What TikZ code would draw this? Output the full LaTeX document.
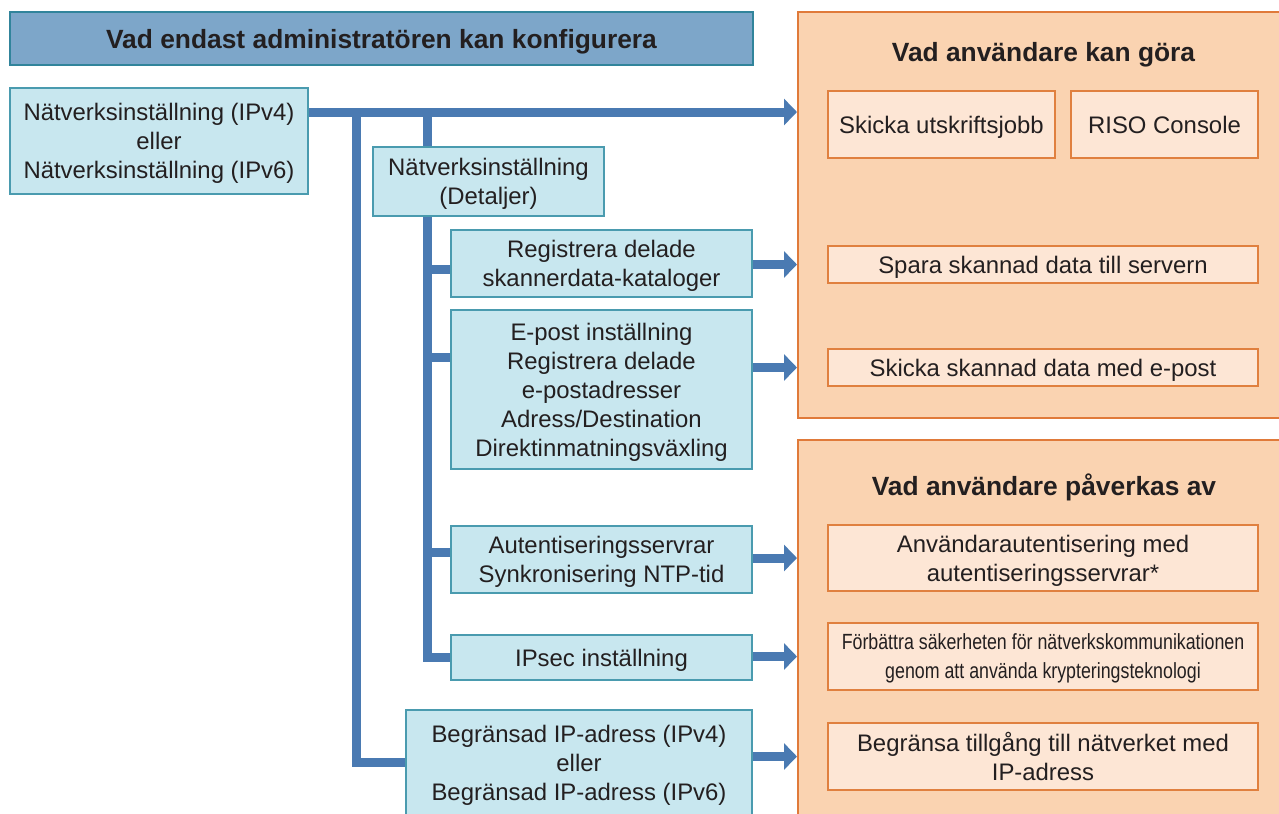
\documentclass[tikz,border=0pt]{standalone}
\usepackage{fontspec}
\setmainfont{Liberation Sans}
\newfontfamily\narrowfont[FakeStretch=0.81]{Liberation Sans}
\usetikzlibrary{arrows.meta,backgrounds}
\definecolor{Ink}{HTML}{231F20}
\definecolor{Trunk}{HTML}{4A7AB2}
\definecolor{HeadFill}{HTML}{7DA6C9}
\definecolor{HeadLine}{HTML}{31849B}
\definecolor{AdmFill}{HTML}{C8E7EF}
\definecolor{AdmLine}{HTML}{4A9BAF}
\definecolor{PanFill}{HTML}{FAD3B1}
\definecolor{PanLine}{HTML}{E07A3A}
\definecolor{UsrFill}{HTML}{FDE6D5}
\definecolor{UsrLine}{HTML}{E0803F}

\begin{document}
\begin{tikzpicture}[x=0.2mm,y=-0.2mm,
  every node/.style={align=center,text=Ink,inner sep=0pt,text depth=0pt,font=\fontsize{13.6}{16.5}\selectfont},
  head/.style={draw=HeadLine,fill=HeadFill,line width=0.5mm,font=\fontsize{15}{18}\selectfont\bfseries},
  adm/.style={draw=AdmLine,fill=AdmFill,line width=0.4mm},
  pan/.style={draw=PanLine,fill=PanFill,line width=0.4mm},
  usr/.style={draw=UsrLine,fill=UsrFill,line width=0.4mm,minimum width=86mm},
  paneltitle/.style={font=\fontsize{15}{18}\selectfont\bfseries},
  trunk/.style={Trunk,line width=1.8mm},
  feed/.style={Trunk,line width=1.8mm,-{Triangle[width=5.2mm,length=2.6mm]}}]
  \useasboundingbox (0,0) rectangle (1279,813);
  \clip (0,0) rectangle (1279,813);

  % administrator side
  \node[head,minimum width=148.6mm,minimum height=10.6mm] (head) at (381.5,38.5) {Vad endast administratören kan konfigurera};
  \node[adm,minimum width=59.6mm,minimum height=21.2mm] (ipnet) at (159,141) {Nätverksinställning (IPv4)\\eller\\Nätverksinställning (IPv6)};
  \node[adm,minimum width=46.2mm,minimum height=13.8mm] (detail) at (488.5,181.5) {Nätverksinställning\\(Detaljer)};
  \node[adm,minimum width=60.2mm,minimum height=13.4mm] (scanfld) at (601.5,263.5) {Registrera delade\\skannerdata-kataloger};
  \node[adm,minimum width=60.2mm,minimum height=31.8mm] (email) at (601.5,389.5) {E-post inställning\\Registrera delade\\e-postadresser\\Adress/Destination\\Direktinmatningsväxling};
  \node[adm,minimum width=60.2mm,minimum height=13.4mm] (auth) at (601.5,559.5) {Autentiseringsservrar\\Synkronisering NTP-tid};
  \node[adm,minimum width=60.2mm,minimum height=9mm] (ipsec) at (601.5,657.5) {IPsec inställning};
  \node[adm,minimum width=69.2mm,minimum height=21.2mm] (iplimit) at (579,763) {Begränsad IP-adress (IPv4)\\eller\\Begränsad IP-adress (IPv6)};

  % user side
  \node[pan,minimum width=100.4mm,minimum height=81.2mm] (cando) at (1049,215) {};
  \node[paneltitle] (candot) at (1043.5,52) {Vad användare kan göra};
  \node[usr,minimum width=45.4mm,minimum height=13.4mm] (print) at (941.5,124.5) {Skicka utskriftsjobb};
  \node[usr,minimum width=37.4mm,minimum height=13.4mm] (riso) at (1164.5,124.5) {RISO Console};
  \node[usr,minimum height=7.4mm] (tosrv) at (1043,264.5) {Spara skannad data till servern};
  \node[usr,minimum height=7.4mm] (tomail) at (1043,367.5) {Skicka skannad data med e-post};

  \node[pan,minimum width=100.4mm,minimum height=82mm] (affect) at (1049,645) {};
  \node[paneltitle] (affectt) at (1044,485) {Vad användare påverkas av};
  \node[usr,minimum height=13.2mm] (usrauth) at (1043,558) {Användarautentisering med\\autentiseringsservrar*};
  \node[usr,minimum height=13.4mm,font=\narrowfont\fontsize{12.5}{16.5}\selectfont] (crypt) at (1043,656.5) {Förbättra säkerheten för nätverkskommunikationen\\genom att använda krypteringsteknologi};
  \node[usr,minimum height=13.4mm] (iponly) at (1043,756.5) {Begränsa tillgång till nätverket med\\IP-adress};

  % connectors
  \begin{pgfonlayer}{background}
    \fill[white] (0,0) rectangle (1279,813);
    \coordinate (j1) at (356,112);
    \coordinate (j2) at (427,112);
    \draw[feed] (ipnet.east |- j1) -- (cando.west |- j1);
    \draw[trunk] (j1) |- (iplimit.west |- 0,762);
    \draw[trunk] (j2) |- (ipsec.west);
    \draw[trunk] (j2 |- 0,269) -- (scanfld.west |- 0,269);
    \draw[trunk] (j2 |- 0,357) -- (email.west |- 0,357);
    \draw[trunk] (j2 |- 0,552) -- (auth.west |- 0,552);
    \draw[feed] (scanfld.east |- tosrv) -- (cando.west |- tosrv);
    \draw[feed] (email.east |- tomail) -- (cando.west |- tomail);
    \draw[feed] (auth.east |- usrauth) -- (affect.west |- usrauth);
    \draw[feed] (ipsec.east |- crypt) -- (affect.west |- crypt);
    \draw[feed] (iplimit.east |- iponly) -- (affect.west |- iponly);
  \end{pgfonlayer}
\end{tikzpicture}
\end{document}
